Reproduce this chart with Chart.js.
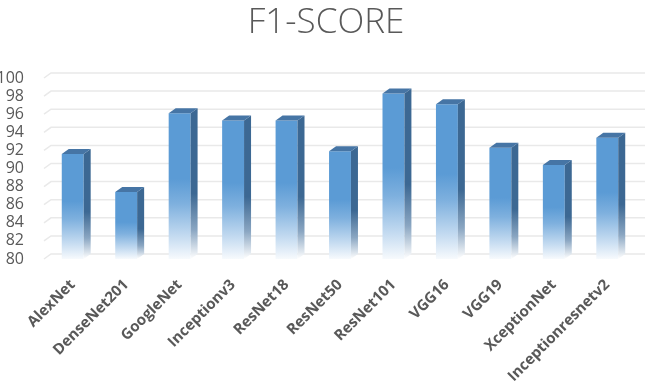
<!DOCTYPE html>
<html>
<head>
<meta charset="utf-8">
<script src="https://cdn.jsdelivr.net/npm/chart.js@4/dist/chart.umd.min.js"></script>
<style>
  html, body { margin: 0; padding: 0; background: #fff; }
  #wrap { width: 646px; height: 385px; }
</style>
</head>
<body>
<div id="wrap"><canvas id="barChart"></canvas></div>
<script>
var models = ["AlexNet", "DenseNet201", "GoogleNet", "Inceptionv3", "ResNet18", "ResNet50",
  "ResNet101", "VGG16", "VGG19", "XceptionNet", "Inceptionresnetv2"];
var f1Scores = [91.6, 87.4, 96.1, 95.3, 95.3, 91.9, 98.3, 97.1, 92.3, 90.4, 93.4];
var yMin = 80, yMax = 100, yStep = 2;

// depth of the fake 3d boxes
var DX = 7, DY = 5;

function frontFill(ctx) {
  var chart = ctx.chart;
  if (!chart.chartArea) return "#5b9bd5";
  var ys = chart.scales.y;
  var top = ys.getPixelForValue(ctx.raw);
  var base = ys.getPixelForValue(yMin);
  var g = chart.ctx.createLinearGradient(0, top, 0, base);
  g.addColorStop(0, "#5b9bd5");
  g.addColorStop(0.45, "#5b9bd5");
  g.addColorStop(0.62, "#7eb0de");
  g.addColorStop(0.85, "#c6dcf1");
  g.addColorStop(1, "#f7fafd");
  return g;
}

var box3d = {
  id: "box3d",
  beforeDatasetsDraw: function (chart) {
    var c = chart.ctx, ys = chart.scales.y, a = chart.chartArea;
    c.save();
    c.strokeStyle = "#e9e9e9";
    c.lineWidth = 1.5;
    ys.ticks.forEach(function (t) {
      var y = ys.getPixelForValue(t.value) - DY;
      c.beginPath();
      c.moveTo(a.left - 2, y + DY);
      c.lineTo(a.left - 2 + DX, y);
      c.lineTo(a.right + DX + 4, y);
      c.stroke();
    });
    c.restore();
  },
  afterDatasetsDraw: function (chart) {
    var c = chart.ctx;
    var ys = chart.scales.y;
    var base = ys.getPixelForValue(yMin);
    var meta = chart.getDatasetMeta(0);
    c.save();
    meta.data.forEach(function (bar) {
      var left = bar.x - bar.width / 2, right = bar.x + bar.width / 2;
      var top = bar.y;
      // side face
      var sg = c.createLinearGradient(0, top, 0, base);
      sg.addColorStop(0, "#3c6893");
      sg.addColorStop(0.55, "#3c6893");
      sg.addColorStop(0.8, "#8aa6c2");
      sg.addColorStop(1, "#ffffff");
      c.fillStyle = sg;
      c.beginPath();
      c.moveTo(right, top);
      c.lineTo(right + DX, top - DY);
      c.lineTo(right + DX, base - DY);
      c.lineTo(right, base);
      c.closePath();
      c.fill();
      // top face
      c.fillStyle = "#4675a5";
      c.beginPath();
      c.moveTo(left, top);
      c.lineTo(left + DX, top - DY);
      c.lineTo(right + DX, top - DY);
      c.lineTo(right, top);
      c.closePath();
      c.fill();
    });
    c.restore();
  }
};

const ctx = document.getElementById("barChart");

var chart = new Chart(ctx, {
  type: "bar",
  data: {
    labels: models,
    datasets: [
      {
        label: "F1-SCORE",
        data: f1Scores,
        backgroundColor: frontFill,
        borderWidth: 0,
        barPercentage: 0.41,
        categoryPercentage: 1.0,
      },
    ],
  },
  options: {
    responsive: true,
    maintainAspectRatio: false,
    animation: false,
    layout: { padding: { left: 0, right: -6, top: 0, bottom: 0 } },
    plugins: {
      legend: { display: false },
      tooltip: { enabled: false },
      title: {
        display: true,
        text: "F1-SCORE",
        color: "#595959",
        font: { family: "'Open Sans'", size: 35, weight: "300" },
        padding: { top: 2, bottom: 34 },
      },
    },
    scales: {
      y: {
        min: yMin,
        max: yMax,
        border: { display: false },
        grid: { display: false },
        ticks: {
          stepSize: yStep,
          autoSkip: false,
          color: "#595959",
          padding: 14,
          font: { family: "'Open Sans'", size: 16 },
        },
        afterFit: function (s) { s.width = 46; },
      },
      // empty right axis, only reserves room for the bar depth
      yRight: {
        position: "right",
        min: yMin,
        max: yMax,
        border: { display: false },
        grid: { display: false },
        ticks: { display: false },
        afterFit: function (s) { s.width = 18; },
      },
      x: {
        border: { display: false },
        grid: { display: false },
        ticks: {
          minRotation: 45,
          maxRotation: 45,
          autoSkip: false,
          color: "#595959",
          padding: 9,
          font: { family: "'Open Sans'", size: 15, weight: "bold" },
        },
        afterFit: function (s) { s.height = 126; },
      },
    },
  },
  plugins: [box3d],
});
</script>
</body>
</html>
